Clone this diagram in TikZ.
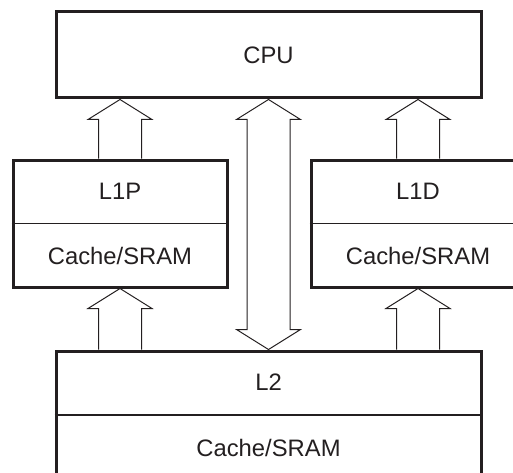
\documentclass[tikz,border=0pt]{standalone}
\usepackage{fontspec}
\setmainfont{Liberation Sans}
\usetikzlibrary{calc}
\definecolor{ink}{HTML}{231F20}
\tikzset{
  box/.style={draw=ink, line width=3pt, inner sep=0pt},
  lbl/.style={text=ink, font=\fontsize{23.8}{28}\selectfont},
  split/.style={draw=ink, line width=1.2pt},
  blkarrow/.style={draw=ink, line width=1pt, line join=miter},
}
% hollow block arrow, tip at #2
\newcommand\blkup[2]{%
  \draw[blkarrow] let \p1=(#1), \p2=(#2) in
    (\x1-21.5,\y1) -- (\x1-21.5,\y2-20) -- (\x1-32,\y2-20) -- (\x1,\y2)
    -- (\x1+32,\y2-20) -- (\x1+21.5,\y2-20) -- (\x1+21.5,\y1);}
% hollow block arrow, tips at both ends
\newcommand\blkboth[2]{%
  \draw[blkarrow] let \p1=(#1), \p2=(#2) in
    (\x1,\y1) -- (\x1-32,\y1+20) -- (\x1-21.5,\y1+20) -- (\x1-21.5,\y2-20)
    -- (\x1-32,\y2-20) -- (\x1,\y2) -- (\x1+32,\y2-20) -- (\x1+21.5,\y2-20)
    -- (\x1+21.5,\y1+20) -- (\x1+32,\y1+20) -- cycle;}
\begin{document}
\begin{tikzpicture}[x=1pt, y=1pt]
  \useasboundingbox (0,0) rectangle (513,472);
  \clip (0,0) rectangle (513,472);
  \node[box, lbl, minimum width=425pt, minimum height=86pt] (cpu) at (268.5,417) {CPU};
  \node[box, minimum width=214pt, minimum height=127pt] (l1p) at (120,248.5) {};
  \node[box, minimum width=214pt, minimum height=127pt] (l1d) at (418,248.5) {};
  \node[box, minimum width=425pt, minimum height=128pt] (l2) at (268.5,57) {};
  \foreach \n/\t in {l1p/L1P, l1d/L1D, l2/L2}{
    \draw[split] (\n.west) -- (\n.east);
    \node[lbl] (\n-name) at ($(\n.center)!0.5!(\n.north)$) {\t};
    \node[lbl] (\n-mem) at ($(\n.center)!0.5!(\n.south)$) {Cache/SRAM};
  }
  \blkup{l1p.north}{cpu.south -| l1p.north}
  \blkup{l1d.north}{cpu.south -| l1d.north}
  \blkup{l2.north -| l1p.south}{l1p.south}
  \blkup{l2.north -| l1d.south}{l1d.south}
  \blkboth{l2.north}{cpu.south}
\end{tikzpicture}
\end{document}
